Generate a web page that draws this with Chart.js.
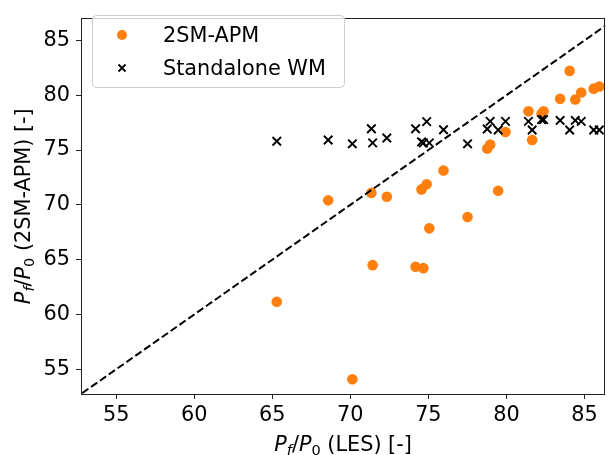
<!DOCTYPE html>
<html lang="en">
<head>
    <meta charset="UTF-8">
    <title>Pf/P0 2SM-APM vs LES</title>
    <script src="https://cdn.jsdelivr.net/npm/chart.js"></script>
    <style>
        html, body { margin: 0; padding: 0; background: #fff; }
    </style>
</head>
<body>
    <canvas id="scatterChart" width="613" height="455"></canvas>

    <script>
        // P_f/P_0 from LES (x), shared by both models
        const lesValues = [65.29, 68.58, 70.13, 71.35, 71.43, 72.34, 74.18, 74.56, 74.68, 74.89, 75.06, 75.97, 77.51,
            78.77, 78.96, 79.47, 79.94, 81.41, 81.65, 82.25, 82.38, 83.44, 84.05, 84.41, 84.79, 85.59, 85.95];
        // 2SM-APM prediction
        const apmValues = [61.16, 70.41, 54.10, 71.09, 64.50, 70.74, 64.35, 71.41, 64.23, 71.88, 67.86, 73.14, 68.89,
            75.13, 75.51, 71.29, 76.65, 78.53, 75.92, 78.30, 78.53, 79.67, 82.22, 79.61, 80.25, 80.60, 80.80];
        // Standalone wake model prediction
        const wmValues = [75.80, 75.92, 75.57, 76.94, 75.66, 76.10, 76.94, 75.75, 75.66, 77.59, 75.66, 76.85, 75.57,
            76.92, 77.62, 76.83, 77.62, 77.62, 76.83, 77.77, 77.77, 77.70, 76.83, 77.70, 77.62, 76.83, 76.83];
        const seriesNames = ['2SM-APM', 'Standalone WM'];
        const tickValues = [55, 60, 65, 70, 75, 80, 85];
        const xRange = [52.75, 86.32];
        const yRange = [52.75, 87.0];
        const diagonal = [50, 90];

        const FONT = 'DejaVu Sans';
        const FS = 20.8;
        const ORANGE = '#ff7f0e';

        const toPoints = (xs, ys) => xs.map((x, i) => ({ x: x, y: ys[i] }));

        // draw text with italic letters and subscripts, like matplotlib mathtext
        function drawRich(ctx, segs, x, y) {
            const fontOf = s => (s.italic ? 'oblique ' : '') + (s.sub ? FS * 0.7 : FS) + 'px "' + FONT + '"';
            let total = 0;
            segs.forEach(s => { ctx.font = fontOf(s); s.w = ctx.measureText(s.t).width; total += s.w; });
            let cx = x - total / 2;
            ctx.fillStyle = '#000';
            ctx.textBaseline = 'alphabetic';
            ctx.textAlign = 'left';
            segs.forEach(s => {
                ctx.font = fontOf(s);
                ctx.fillText(s.t, cx, y + (s.sub ? 4 : 0));
                cx += s.w;
            });
        }
        const ratio = [
            { t: 'P', italic: true }, { t: 'f', italic: true, sub: true }, { t: '/' },
            { t: 'P', italic: true }, { t: '0', sub: true }
        ];

        const framePlugin = {
            id: 'frame',
            afterDraw(chart) {
                const ctx = chart.ctx;
                const a = chart.chartArea;
                ctx.save();
                ctx.strokeStyle = '#222';
                ctx.lineWidth = 1;
                ctx.strokeRect(Math.round(a.left) + 0.5, Math.round(a.top) + 0.5,
                    Math.round(a.right - a.left) - 1, Math.round(a.bottom - a.top));

                // axis titles
                drawRich(ctx, ratio.concat([{ t: ' (LES) [-]' }]), (a.left + a.right) / 2, 451);
                ctx.translate(30, (a.top + a.bottom) / 2);
                ctx.rotate(-Math.PI / 2);
                drawRich(ctx, ratio.concat([{ t: ' (2SM-APM) [-]' }]), 0, 0);
                ctx.restore();

                // legend box in the upper left
                ctx.save();
                ctx.fillStyle = 'rgba(255,255,255,0.8)';
                ctx.strokeStyle = '#cccccc';
                ctx.lineWidth = 1;
                ctx.beginPath();
                ctx.roundRect(92.5, 15.5, 252, 72, 4);
                ctx.fill();
                ctx.stroke();
                ctx.fillStyle = ORANGE;
                ctx.beginPath();
                ctx.arc(122, 35, 5, 0, Math.PI * 2);
                ctx.fill();
                ctx.strokeStyle = '#000';
                ctx.lineWidth = 1.8;
                ctx.beginPath();
                ctx.moveTo(118.5, 64.5); ctx.lineTo(125.5, 71.5);
                ctx.moveTo(125.5, 64.5); ctx.lineTo(118.5, 71.5);
                ctx.stroke();
                ctx.fillStyle = '#000';
                ctx.font = FS + 'px "' + FONT + '"';
                ctx.textAlign = 'left';
                ctx.textBaseline = 'alphabetic';
                ctx.fillText(seriesNames[0], 163, 42);
                ctx.fillText(seriesNames[1], 163, 75);
                ctx.restore();
            }
        };

        const axisCommon = {
            type: 'linear',
            ticks: { font: { family: FONT, size: FS }, color: '#000', padding: 4, autoSkip: false, maxRotation: 0 },
            grid: { display: true, drawOnChartArea: false, drawTicks: true, tickLength: 5, tickColor: '#222', tickWidth: 1 },
            border: { display: false },
            afterBuildTicks: axis => { axis.ticks = tickValues.map(v => ({ value: v })); }
        };

        const ctx = document.getElementById('scatterChart').getContext('2d');
        const scatterChart = new Chart(ctx, {
            type: 'scatter',
            data: {
                datasets: [
                    {
                        label: 'y = x',
                        data: toPoints(diagonal, diagonal),
                        showLine: true,
                        borderColor: '#000',
                        borderWidth: 2,
                        borderDash: [7.5, 3.3],
                        pointRadius: 0,
                        order: 0
                    },
                    {
                        label: seriesNames[1],
                        data: toPoints(lesValues, wmValues),
                        pointStyle: 'crossRot',
                        pointRadius: 6,
                        borderColor: '#000',
                        borderWidth: 1.9,
                        order: 1
                    },
                    {
                        label: seriesNames[0],
                        data: toPoints(lesValues, apmValues),
                        pointStyle: 'circle',
                        pointRadius: 5.3,
                        backgroundColor: ORANGE,
                        borderWidth: 0,
                        order: 2
                    }
                ]
            },
            options: {
                responsive: false,
                animation: false,
                layout: { padding: { left: 0, right: 1.5, top: 4, bottom: 0 } },
                plugins: { legend: { display: false }, tooltip: { enabled: false } },
                scales: {
                    x: Object.assign({}, axisCommon, {
                        min: xRange[0], max: xRange[1],
                        afterFit: s => { s.height = 61; }
                    }),
                    y: Object.assign({}, axisCommon, {
                        min: yRange[0], max: yRange[1],
                        ticks: Object.assign({}, axisCommon.ticks, { padding: 6 }),
                        afterFit: s => { s.width = 81; }
                    })
                }
            },
            plugins: [framePlugin]
        });
    </script>
</body>
</html>
